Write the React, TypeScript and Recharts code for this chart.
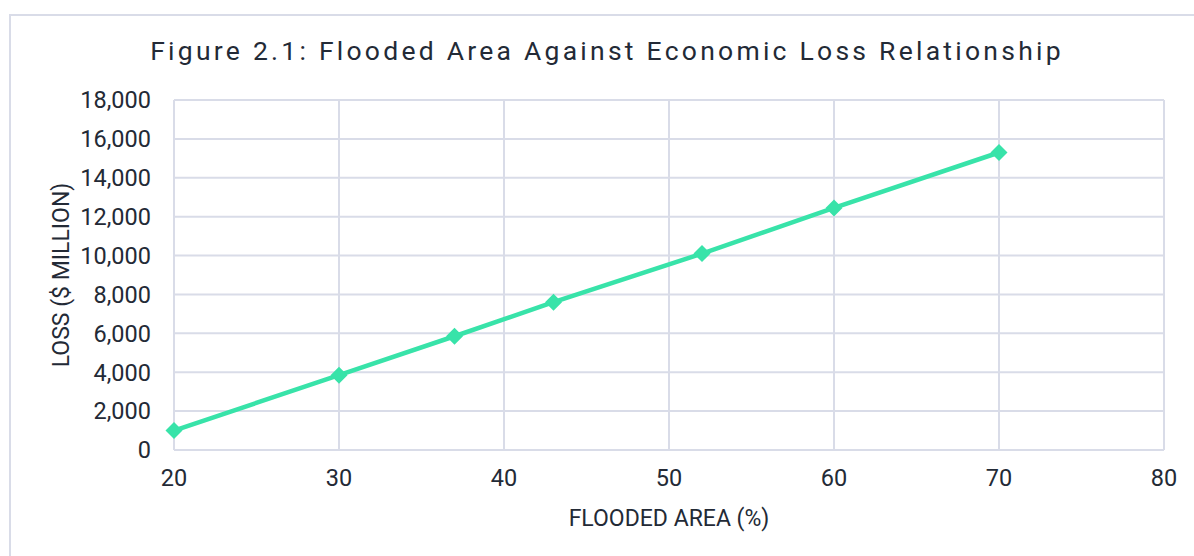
import { LineChart, Line, XAxis, YAxis, CartesianGrid } from 'recharts'

// Flooded area (%) vs estimated economic loss ($ million)
const floodedArea = [20, 30, 37, 43, 52, 60, 70]
const lossMillion = [1000, 3850, 5850, 7600, 10100, 12450, 15300]
const xTicks = [20, 30, 40, 50, 60, 70, 80]
const yTicks = [0, 2000, 4000, 6000, 8000, 10000, 12000, 14000, 16000, 18000]

const data = floodedArea.map((area, i) => ({ area, loss: lossMillion[i] }))

const lineColor = '#38e3a9'
const gridColor = '#d9dce8'
const textColor = '#232a36'
const font = 'Roboto, "Noto Sans", sans-serif'

function Diamond(props: any) {
  const { cx, cy } = props
  if (cx == null || cy == null) return null
  const r = 8.5
  return (
    <polygon
      points={`${cx},${cy - r} ${cx + r},${cy} ${cx},${cy + r} ${cx - r},${cy}`}
      fill={lineColor}
    />
  )
}

function YLabel(props: any) {
  const { viewBox } = props
  const x = viewBox.x - 3
  const y = viewBox.y + viewBox.height / 2
  return (
    <text
      x={x}
      y={y}
      transform={`rotate(-90, ${x}, ${y})`}
      textAnchor="middle"
      dominantBaseline="central"
      fill={textColor}
      fontSize={23}
      fontFamily={font}
    >
      LOSS ($ MILLION)
    </text>
  )
}

function XLabel(props: any) {
  const { viewBox } = props
  return (
    <text
      x={viewBox.x + viewBox.width / 2}
      y={518}
      textAnchor="middle"
      dominantBaseline="central"
      fill={textColor}
      fontSize={23}
      fontFamily={font}
    >
      FLOODED AREA (%)
    </text>
  )
}

export default function App() {
  return (
    <div
      style={{
        position: 'absolute',
        left: 0,
        top: 0,
        width: 1194,
        height: 556,
        background: '#fff',
        overflow: 'hidden',
        fontFamily: font,
      }}
    >
      <div
        style={{
          position: 'absolute',
          left: 9,
          top: 14,
          width: 1300,
          height: 700,
          borderLeft: `2px solid ${gridColor}`,
          borderTop: `2px solid ${gridColor}`,
        }}
      />
      <div
        style={{
          position: 'absolute',
          left: 0,
          width: 1214,
          top: 33,
          textAlign: 'center',
          fontSize: 26.5,
          letterSpacing: 3.25,
          color: textColor,
          lineHeight: '36px',
          whiteSpace: 'nowrap',
        }}
      >
        Figure 2.1: Flooded Area Against Economic Loss Relationship
      </div>
      <LineChart
        width={1194}
        height={556}
        data={data}
        margin={{ top: 100, right: 30, bottom: 46, left: 64 }}
        style={{ position: 'absolute', left: 0, top: 0 }}
      >
        <CartesianGrid stroke={gridColor} strokeWidth={2} />
        <XAxis
          dataKey="area"
          type="number"
          domain={[20, 80]}
          ticks={xTicks}
          axisLine={false}
          tickLine={false}
          tickSize={0}
          tickMargin={19}
          height={60}
          tick={{ fill: textColor, fontSize: 23.5, fontFamily: font }}
          label={<XLabel />}
        />
        <YAxis
          type="number"
          domain={[0, 18000]}
          ticks={yTicks}
          width={110}
          axisLine={false}
          tickLine={false}
          tickSize={0}
          tickMargin={23}
          tickFormatter={(v: number) => v.toLocaleString('en-US')}
          tick={{ fill: textColor, fontSize: 23.5, fontFamily: font }}
          label={<YLabel />}
        />
        <Line
          dataKey="loss"
          stroke={lineColor}
          strokeWidth={4.5}
          dot={<Diamond />}
          activeDot={false}
          isAnimationActive={false}
        />
      </LineChart>
    </div>
  )
}
